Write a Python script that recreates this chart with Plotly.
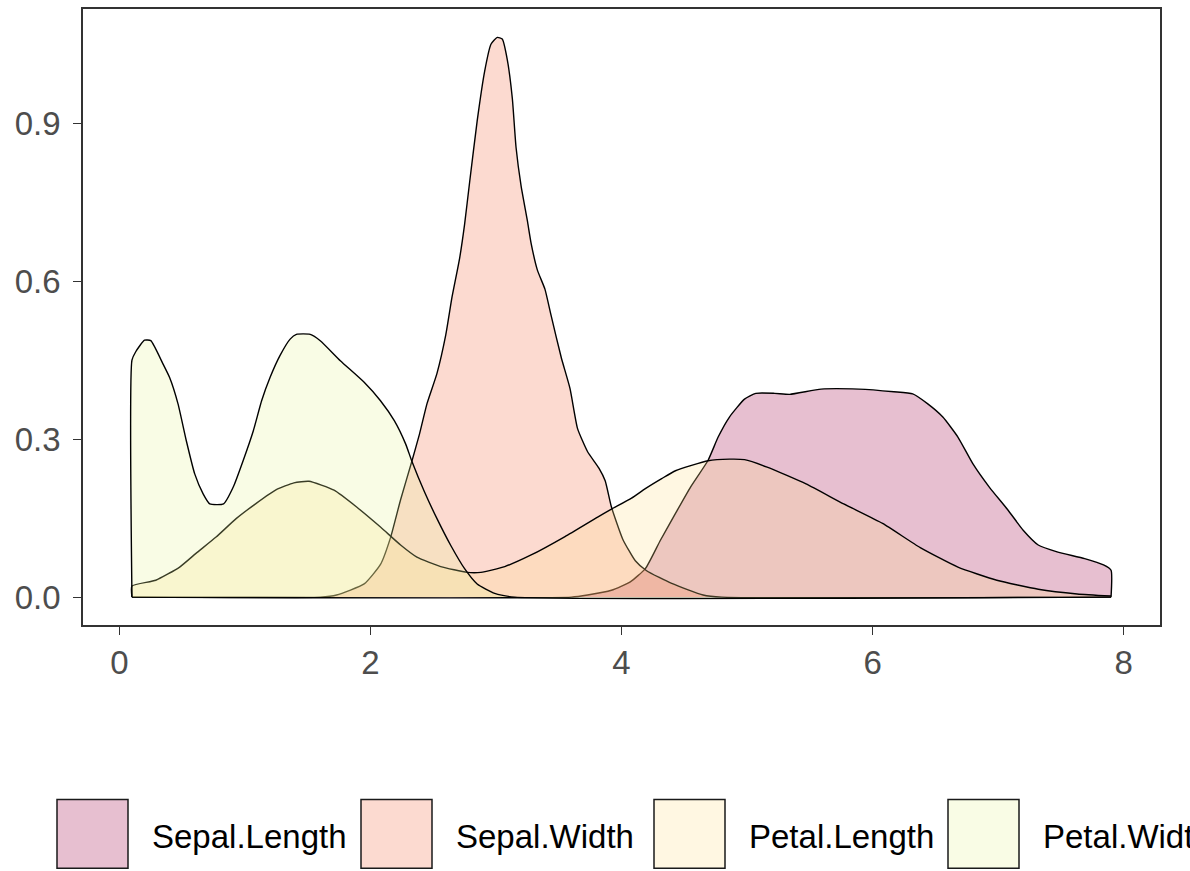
import plotly.graph_objects as go

# Kernel density estimates of the four iris measurements (read at selected x positions)
sepal_length_x = [0.1, 3.6, 3.73, 3.92, 4.07, 4.19, 4.31, 4.43, 4.55, 4.69, 4.77, 4.86, 4.98, 5.07,
                  5.22, 5.34, 5.59, 5.89, 6.17, 6.32, 6.44, 6.56, 6.68, 6.80, 6.93, 7.08, 7.20,
                  7.32, 7.47, 7.69, 7.84, 7.9, 7.9]
sepal_length_y = [0.0, 0.0, 0.004, 0.013, 0.029, 0.054, 0.108, 0.159, 0.209, 0.260, 0.304, 0.342,
                  0.376, 0.387, 0.387, 0.385, 0.395, 0.395, 0.390, 0.386, 0.367, 0.342, 0.304,
                  0.253, 0.209, 0.165, 0.127, 0.099, 0.086, 0.073, 0.061, 0.051, 0.0]

sepal_width_x = [0.1, 1.6, 1.73, 1.95, 2.08, 2.16, 2.24, 2.33, 2.39, 2.45, 2.53, 2.60, 2.65, 2.71,
                 2.75, 2.79, 2.85, 2.91, 2.96, 3.01, 3.05, 3.09, 3.13, 3.16, 3.20, 3.25, 3.28, 3.33,
                 3.39, 3.44, 3.52, 3.59, 3.65, 3.73, 3.82, 3.87, 3.92, 4.01, 4.11, 4.20, 4.40,
                 4.65, 4.8, 7.9]
sepal_width_y = [0.0, 0.0, 0.004, 0.025, 0.062, 0.113, 0.185, 0.258, 0.309, 0.367, 0.425, 0.498,
                 0.570, 0.643, 0.708, 0.788, 0.904, 0.999, 1.050, 1.063, 1.060, 1.021, 0.948,
                 0.854, 0.781, 0.715, 0.672, 0.621, 0.585, 0.534, 0.455, 0.396, 0.320, 0.276,
                 0.245, 0.221, 0.171, 0.110, 0.069, 0.050, 0.026, 0.004, 0.0, 0.0]

petal_length_x = [0.1, 0.1, 0.29, 0.48, 0.61, 0.77, 0.93, 1.09, 1.25, 1.39, 1.51, 1.71, 1.89, 2.08,
                  2.24, 2.37, 2.56, 2.77, 2.88, 3.07, 3.28, 3.55, 3.81, 3.92, 4.08, 4.19, 4.32,
                  4.43, 4.69, 4.86, 4.98, 5.16, 5.47, 5.77, 6.08, 6.38, 6.68, 6.99, 7.32, 7.63, 7.9]
petal_length_y = [0.0, 0.021, 0.032, 0.057, 0.083, 0.114, 0.149, 0.178, 0.204, 0.217, 0.220, 0.203,
                  0.171, 0.133, 0.099, 0.076, 0.058, 0.047, 0.047, 0.058, 0.080, 0.115, 0.152,
                  0.167, 0.188, 0.206, 0.225, 0.240, 0.259, 0.262, 0.261, 0.247, 0.215, 0.177,
                  0.140, 0.094, 0.057, 0.032, 0.015, 0.006, 0.002]

petal_width_x = [0.1, 0.1, 0.13, 0.2, 0.25, 0.347, 0.40, 0.467, 0.533, 0.60, 0.667, 0.72, 0.83,
                 0.907, 0.987, 1.067, 1.133, 1.20, 1.28, 1.36, 1.41, 1.52, 1.60, 1.76, 1.95, 2.08,
                 2.19, 2.28, 2.33, 2.43, 2.53, 2.64, 2.75, 2.85, 2.99, 3.15, 7.9]
petal_width_y = [0.0, 0.450, 0.466, 0.488, 0.487, 0.443, 0.417, 0.367, 0.297, 0.234, 0.196, 0.177,
                 0.177, 0.209, 0.260, 0.316, 0.373, 0.417, 0.459, 0.490, 0.499, 0.499, 0.487,
                 0.449, 0.408, 0.373, 0.335, 0.291, 0.258, 0.200, 0.149, 0.098, 0.054, 0.025,
                 0.007, 0.0, 0.0]

series_names = ["Sepal.Length", "Sepal.Width", "Petal.Length", "Petal.Width"]
series_x = [sepal_length_x, sepal_width_x, petal_length_x, petal_width_x]
series_y = [sepal_length_y, sepal_width_y, petal_length_y, petal_width_y]
fill_colors = ["rgba(158,1,66,0.25)", "rgba(244,109,67,0.25)",
               "rgba(254,224,139,0.25)", "rgba(230,245,152,0.25)"]

x_ticks = [0, 2, 4, 6, 8]
y_ticks = [0.0, 0.3, 0.6, 0.9]
y_tick_text = ["0.0", "0.3", "0.6", "0.9"]

FONT = "Liberation Sans, Arial, sans-serif"

fig = go.Figure()
for name, xs, ys, fc in zip(series_names, series_x, series_y, fill_colors):
    fig.add_trace(go.Scatter(
        x=xs, y=ys, name=name, mode="lines", fill="tozeroy", fillcolor=fc,
        line=dict(color="black", width=1.4, shape="spline", smoothing=0.5),
        showlegend=False, hoverinfo="x+y+name",
    ))

# Legend drawn as large keys below the plot; the last label runs past the page edge
key_left = [57, 361, 654, 948]
for name, fc, kx in zip(series_names, fill_colors, key_left):
    x0 = (kx - 83) / 1077
    x1 = (kx + 71 - 83) / 1077
    y0 = (625 - 869) / 618
    y1 = (625 - 800) / 618
    fig.add_shape(type="rect", xref="paper", yref="paper", x0=x0, x1=x1, y0=y0, y1=y1,
                  fillcolor=fc, line=dict(color="#1a1a1a", width=1.5), layer="above")
    fig.add_annotation(xref="paper", yref="paper", x=(kx + 93 - 83) / 1077,
                       y=(625 - 837) / 618, text=name, showarrow=False,
                       xanchor="left", yanchor="middle",
                       font=dict(family=FONT, size=33, color="black"))

axis_common = dict(
    showline=True, linecolor="#333333", linewidth=1.6, mirror=True,
    ticks="outside", ticklen=8, tickwidth=1.4, tickcolor="#333333",
    showgrid=False, zeroline=False,
    tickfont=dict(family=FONT, size=33, color="#4d4d4d"),
)

fig.update_layout(
    width=1190, height=871,
    margin=dict(l=83, r=30, t=7, b=246),
    paper_bgcolor="white", plot_bgcolor="white",
    xaxis=dict(range=[-0.29, 8.29], tickvals=x_ticks, ticktext=[str(v) for v in x_ticks],
               **axis_common),
    yaxis=dict(range=[-0.053, 1.117], tickvals=y_ticks, ticktext=y_tick_text,
               ticklabelstandoff=6, **axis_common),
    showlegend=False,
)

fig.write_html("out.html")
